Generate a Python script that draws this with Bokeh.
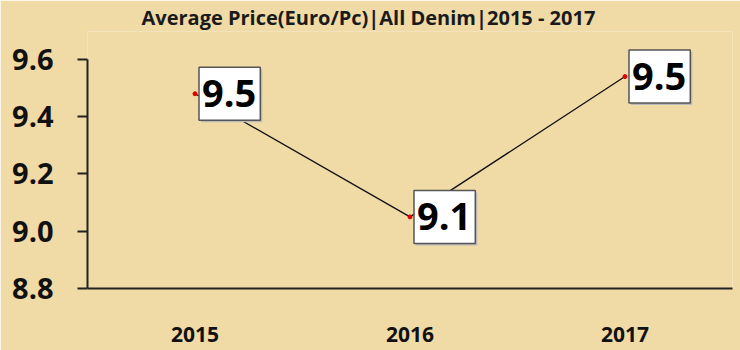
from bokeh.plotting import figure
from bokeh.models import FactorRange, Range1d, FixedTicker, ColumnDataSource, NumeralTickFormatter
from bokeh.core.properties import value
from bokeh.embed import file_html
from bokeh.resources import INLINE

years = ["2015", "2016", "2017"]
prices = [9.48, 9.05, 9.54]
labels = ["9.5", "9.1", "9.5"]
y_ticks = [8.8, 9.0, 9.2, 9.4, 9.6]
title_text = "Average Price(Euro/Pc)|All Denim|2015 - 2017"

BG = "#F0DAA6"

p = figure(width=740, height=350, output_backend="svg", toolbar_location=None,
           x_range=FactorRange(*years, range_padding=0),
           y_range=Range1d(8.8, 9.6 + 28 / 287.5),
           min_border_left=87, min_border_right=8, min_border_top=30, min_border_bottom=62,
           background_fill_color=BG, border_fill_color=BG, outline_line_color=None)

p.title.text = title_text
p.title.align = "left"
p.title.offset = 54
p.title.text_font = "Open Sans"
p.title.text_font_size = "20px"
p.title.text_font_style = "bold"
p.title.text_color = "#1a1a1a"
p.title.standoff = 2

p.xgrid.visible = False
p.ygrid.visible = False

ya = p.yaxis[0]
ya.ticker = FixedTicker(ticks=y_ticks)
ya.bounds = (8.8, 9.6)
ya.formatter = NumeralTickFormatter(format="0.0")
ya.axis_line_color = "#222222"
ya.axis_line_width = 2
ya.major_tick_line_color = "#222222"
ya.major_tick_line_width = 2
ya.major_tick_out = 10
ya.major_tick_in = 0
ya.minor_tick_line_color = None
ya.major_label_standoff = 24
ya.major_label_text_font = "Open Sans"
ya.major_label_text_font_size = "29px"
ya.major_label_text_font_style = "bold"
ya.major_label_text_color = "#111111"

xa = p.xaxis[0]
xa.axis_line_color = "#222222"
xa.axis_line_width = 2
xa.major_tick_line_color = None
xa.minor_tick_line_color = None
xa.major_label_standoff = 32
xa.major_label_text_font = "Open Sans"
xa.major_label_text_font_size = "21px"
xa.major_label_text_font_style = "bold"
xa.major_label_text_color = "#111111"

src = ColumnDataSource(dict(x=years, y=prices, t=labels))

p.line("x", "y", source=src, line_color="#111111", line_width=1.3)
p.scatter("x", "y", source=src, size=4, fill_color="#E00000", line_color="#E00000")

pad = dict(left=3, right=4, top=13, bottom=13)
# shadow boxes
p.text("x", "y", text="t", source=src, x_offset=6, y_offset=2,
       text_font=value("Open Sans"), text_font_size="38px", text_font_style="bold",
       text_align="left", text_baseline="middle", text_color="#BBBBBB",
       background_fill_color="#BBBBBB", padding=pad)
p.text("x", "y", text="t", source=src, x_offset=4,
       text_font=value("Open Sans"), text_font_size="38px", text_font_style="bold",
       text_align="left", text_baseline="middle", text_color="#000000",
       background_fill_color="#FFFFFF", border_line_color="#555555",
       border_line_width=1.5, padding=pad)

open("out.html", "w").write(file_html(p, INLINE))
